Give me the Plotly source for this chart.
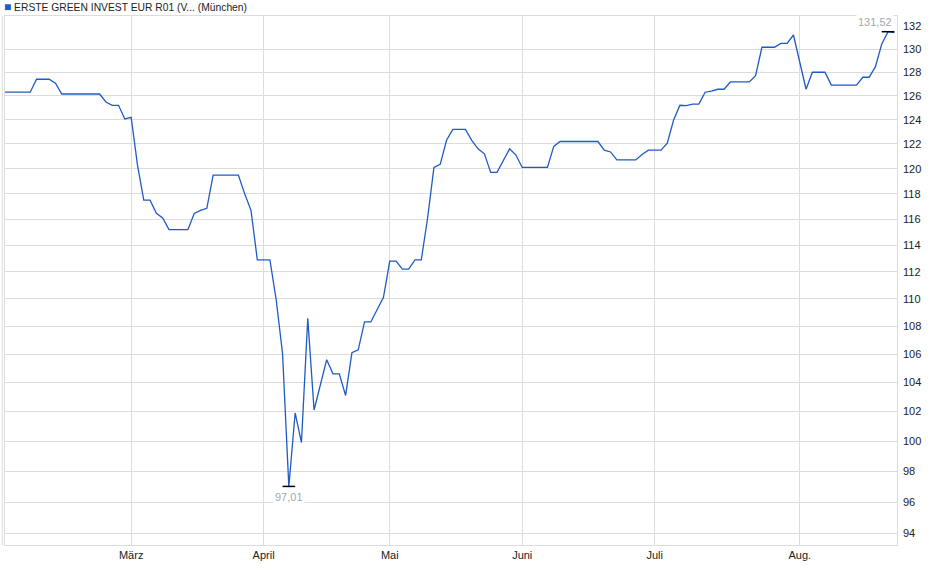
import numpy as np
import plotly.graph_objects as go

# trading days (vertices of the price line), Munich quotes 2025
dates = [
    "2025-02-03", "2025-02-07", "2025-02-10", "2025-02-12", "2025-02-13", "2025-02-14",
    "2025-02-24", "2025-02-25", "2025-02-26", "2025-02-27", "2025-02-28",
    "2025-03-03", "2025-03-04", "2025-03-05", "2025-03-06", "2025-03-07", "2025-03-10",
    "2025-03-11", "2025-03-14", "2025-03-17", "2025-03-18", "2025-03-19", "2025-03-20",
    "2025-03-26", "2025-03-27", "2025-03-28", "2025-03-31",
    "2025-04-02", "2025-04-03", "2025-04-04", "2025-04-07", "2025-04-08", "2025-04-09",
    "2025-04-10", "2025-04-11", "2025-04-15", "2025-04-16", "2025-04-17", "2025-04-22",
    "2025-04-23", "2025-04-24", "2025-04-25", "2025-04-28", "2025-04-30",
    "2025-05-02", "2025-05-05", "2025-05-06", "2025-05-07", "2025-05-08", "2025-05-09",
    "2025-05-12", "2025-05-13", "2025-05-14", "2025-05-15", "2025-05-16", "2025-05-20",
    "2025-05-21", "2025-05-22", "2025-05-23", "2025-05-26", "2025-05-27", "2025-05-29",
    "2025-05-30",
    "2025-06-02", "2025-06-06", "2025-06-09", "2025-06-10", "2025-06-18", "2025-06-19",
    "2025-06-20", "2025-06-23", "2025-06-26", "2025-06-27", "2025-06-30",
    "2025-07-02", "2025-07-03", "2025-07-04", "2025-07-07", "2025-07-08", "2025-07-09",
    "2025-07-10", "2025-07-11", "2025-07-14", "2025-07-15", "2025-07-16", "2025-07-17",
    "2025-07-22", "2025-07-23", "2025-07-24", "2025-07-28", "2025-07-29", "2025-07-30",
    "2025-07-31",
    "2025-08-04", "2025-08-05", "2025-08-07", "2025-08-08", "2025-08-14", "2025-08-15",
    "2025-08-18", "2025-08-19", "2025-08-20", "2025-08-21", "2025-08-22",
]
prices = [
    126.30, 126.30, 127.40, 127.40, 127.06, 126.15,
    126.15, 125.48, 125.20, 125.20, 124.06,
    124.20, 120.30, 117.50, 117.50, 116.47, 116.10,
    115.20, 115.20, 116.45, 116.70, 116.86, 119.49,
    119.49, 118.00, 116.70, 112.90,
    112.90, 109.90, 106.05, 97.01, 101.90, 99.90,
    108.56, 102.10, 105.60, 104.60, 104.60, 103.10,
    106.10, 106.30, 108.30, 108.30, 110.10,
    112.80, 112.80, 112.20, 112.20, 112.90, 112.90,
    116.10, 120.10, 120.35, 122.30, 123.20, 123.20,
    122.30, 121.60, 121.20, 119.70, 119.70, 121.60,
    121.10,
    120.10, 120.10, 121.80, 122.20, 122.20, 121.50,
    121.35, 120.70, 120.70, 121.15, 121.50,
    121.50, 122.06, 123.97, 125.20, 125.17, 125.30,
    125.30, 126.30, 126.40, 126.55, 126.55, 127.17,
    127.17, 127.70, 130.16, 130.16, 130.50, 130.50,
    131.23,
    126.55, 128.00, 128.00, 126.90, 126.90, 127.57,
    127.57, 128.48, 130.44, 131.52, 131.45,
]

holidays = ["2025-04-18", "2025-04-21", "2025-05-01"]
month_ticks = ["2025-03-03", "2025-04-01", "2025-05-02", "2025-06-02", "2025-07-01", "2025-08-01"]
month_labels = ["März", "April", "Mai", "Juni", "Juli", "Aug."]
price_ticks = [94, 96, 98, 100, 102, 104, 106, 108, 110, 112, 114,
               116, 118, 120, 122, 124, 126, 128, 130, 132]
grid_ticks = price_ticks[:-1]  # no grid line drawn at 132

LINE_BLUE = "#1f5bc4"
GRID = "#dcdcdc"
FONT = "Liberation Sans, Arial, sans-serif"

i_min = int(np.argmin(prices))
i_max = int(np.argmax(prices))
y_range = [np.log10(93.28), np.log10(132.91)]


def fmt(v):
    return f"{v:.2f}".replace(".", ",")


fig = go.Figure()
fig.add_trace(go.Scatter(x=dates, y=prices, mode="lines",
                         line=dict(color=LINE_BLUE, width=1.3),
                         showlegend=False, yaxis="y"))
fig.add_trace(go.Scatter(x=[dates[i_min], dates[i_max]],
                         y=[prices[i_min], prices[i_max]],
                         mode="markers",
                         marker=dict(symbol="line-ew", size=9,
                                     line=dict(color="black", width=1.5)),
                         showlegend=False, yaxis="y2"))

fig.update_layout(
    width=940, height=579,
    margin=dict(l=5, r=43, t=16, b=34),
    paper_bgcolor="white", plot_bgcolor="white",
    font=dict(family=FONT, size=11, color="#222"),
    xaxis=dict(
        type="date",
        range=["2025-02-03", "2025-08-22 10:00"],
        rangebreaks=[dict(bounds=["sat", "mon"]), dict(values=holidays)],
        tickmode="array", tickvals=month_ticks, ticktext=month_labels,
        showgrid=True, gridcolor=GRID, gridwidth=1,
        showline=True, linecolor=GRID, mirror=True,
        ticks="", zeroline=False, ticklabelstandoff=0,
        tickfont=dict(size=11, color="#222"),
    ),
    yaxis=dict(
        type="log", range=y_range, side="right",
        tickmode="array", tickvals=grid_ticks,
        showticklabels=False,
        showgrid=True, gridcolor=GRID, gridwidth=1,
        showline=True, linecolor=GRID, mirror=True,
        ticks="", zeroline=False,
    ),
    yaxis2=dict(
        type="log", range=y_range, side="right", overlaying="y",
        tickmode="array", tickvals=price_ticks,
        ticktext=[str(t) for t in price_ticks],
        showgrid=False, showline=False, ticks="", zeroline=False,
        ticklabelstandoff=5,
        tickfont=dict(size=11, color="#222"),
    ),
    annotations=[
        dict(xref="paper", yref="paper", x=-0.003, y=1, yshift=9,
             xanchor="left", yanchor="middle", showarrow=False,
             text=f"<span style='color:{LINE_BLUE};font-size:12px'>■</span> "
                  "ERSTE GREEN INVEST EUR R01 (V... (München)",
             font=dict(size=10.3, color="#222")),
        dict(x=dates[i_min], y=np.log10(prices[i_min]), xref="x", yref="y",
             xanchor="center", yanchor="top", yshift=-3, showarrow=False,
             text=fmt(prices[i_min]), font=dict(size=11, color="#a3a8b4"),
             bgcolor="white"),
        dict(x=dates[i_max], y=np.log10(prices[i_max]), xref="x", yref="y",
             xanchor="right", yanchor="bottom", xshift=6, yshift=2, showarrow=False,
             text=fmt(prices[i_max]), font=dict(size=11, color="#a3a8b4"),
             bgcolor="white"),
    ],
    shapes=[
        dict(type="line", xref="paper", yref="paper", x0=-0.003, x1=-0.003,
             y0=0, y1=1, line=dict(color=GRID, width=1)),
    ],
)

# the page's default 8px body margin would push the chart off its spot
fig.write_html("out.html", config={"displayModeBar": False},
               post_script="document.body.style.margin='0';")
